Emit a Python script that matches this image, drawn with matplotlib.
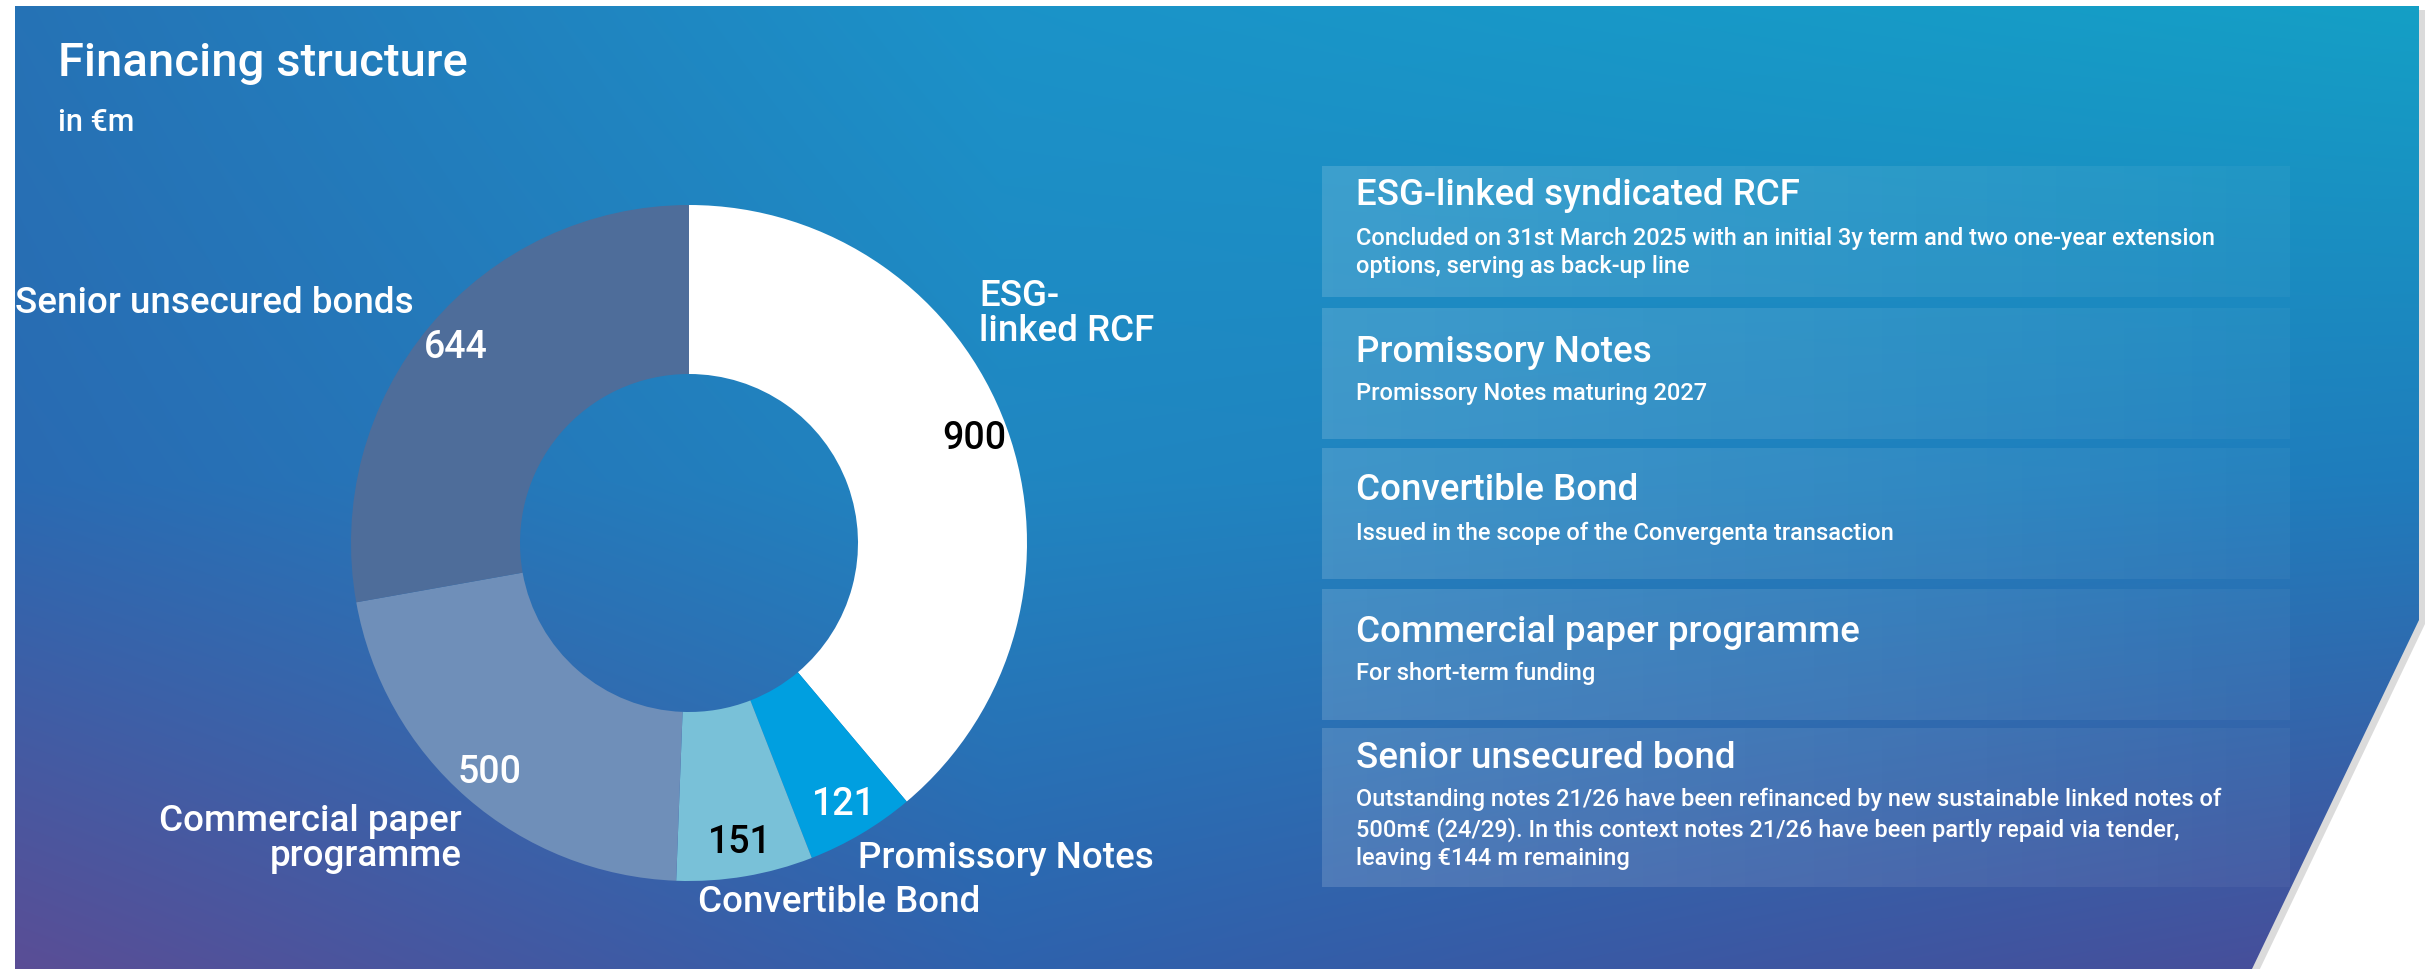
"""Financing structure donut with description panels."""

import matplotlib
matplotlib.use("Agg")
import matplotlib.pyplot as plt
import numpy as np
from matplotlib.patches import Polygon

plt.rcParams["font.family"] = ["Roboto", "DejaVu Sans"]
plt.rcParams["font.weight"] = "medium"

W, H = 2433, 969

# data
categories = ["ESG-linked RCF", "Promissory Notes", "Convertible Bond",
              "Commercial paper programme", "Senior unsecured bonds"]
amounts = [900, 121, 151, 500, 644]
slice_colors = ["#ffffff", "#009fe0", "#79c1d8", "#6f8fb9", "#4e6d9a"]
value_colors = ["black", "white", "black", "white", "white"]
outer_labels = ["ESG-\nlinked RCF", "Promissory Notes", "Convertible Bond",
                "Commercial paper\nprogramme", "Senior unsecured bonds"]

box_titles = ["ESG-linked syndicated RCF", "Promissory Notes", "Convertible Bond",
              "Commercial paper programme", "Senior unsecured bond"]
box_texts = [
    "Concluded on 31st March 2025 with an initial 3y term and two one-year extension\n"
    "options, serving as back-up line",
    "Promissory Notes maturing 2027",
    "Issued in the scope of the Convergenta transaction",
    "For short-term funding",
    "Outstanding notes 21/26 have been refinanced by new sustainable linked notes of\n"
    "500m\u20ac (24/29). In this context notes 21/26 have been partly repaid via tender,\n"
    "leaving \u20ac144 m remaining",
]

# layout (image pixel coords, y down)
label_pos = [(979, 314, "left"), (858, 858, "left"), (698, 902, "left"),
             (462, 839, "right"), (15, 303, "left")]
box_rows = [(166, 297), (308, 439), (448, 579), (589, 720), (728, 887)]
box_title_y = [195, 352, 490, 632, 758]
box_text_y = [238, 393, 533, 673, 799]

fig = plt.figure(figsize=(W / 100, H / 100), dpi=100)
ax = fig.add_axes([0, 0, 1, 1])
ax.axis("off")


def Y(y):
    return H - y


# background panel with gradient
panel = [(15, Y(6)), (2419, Y(6)), (2419, Y(620)), (2252, Y(H)), (15, Y(H))]
shadow = Polygon([(x + 6, y - 4) for x, y in panel], closed=True,
                 facecolor="#999999", alpha=0.35, edgecolor="none", zorder=0)
ax.add_patch(shadow)

grid_x = [0, 1000, W]
grid_y = [0, 480, H]
grid_cols = [
    ["#2672b5", "#1b93c9", "#14a0c6"],
    ["#2a6ab2", "#2086c1", "#1f7cbc"],
    ["#5b4d95", "#2e62ad", "#4a4c98"],
]
rgb = np.array([[matplotlib.colors.to_rgb(c) for c in row] for row in grid_cols])
xs = np.arange(W)
ys = np.arange(H)
rows = np.stack([np.stack([np.interp(xs, grid_x, rgb[r, :, k]) for k in range(3)], -1)
                 for r in range(3)])
img = np.empty((H, W, 3))
for k in range(3):
    img[:, :, k] = np.array([np.interp(ys, grid_y, rows[:, i, k]) for i in range(W)]).T
bg = ax.imshow(img, extent=(0, W, 0, H), origin="upper", zorder=1)
clip = Polygon(panel, closed=True, facecolor="none", edgecolor="none")
ax.add_patch(clip)
bg.set_clip_path(clip)

# title
ax.text(58, Y(63), "Financing structure", color="white", fontsize=34,
        va="center", ha="left", zorder=5)
ax.text(58, Y(122), "in \u20acm", color="white", fontsize=22,
        va="center", ha="left", zorder=5)

# donut
cx, cy, R = 689, Y(543), 338
wedges, _, autotexts = ax.pie(
    amounts, colors=slice_colors, startangle=90, counterclock=False,
    radius=R, center=(cx, cy), autopct=lambda p: f"{p * sum(amounts) / 100:.0f}",
    pctdistance=0.9, wedgeprops=dict(width=R / 2, edgecolor="none"),
    textprops=dict(fontsize=27, fontweight="medium"),
)
for w in wedges:
    w.set_zorder(4)
for t, c in zip(autotexts, value_colors):
    t.set_color(c)
    t.set_zorder(6)

for lab, (x, y, ha) in zip(outer_labels, label_pos):
    ax.text(x, Y(y), lab, color="white", fontsize=26.5, ha=ha, va="center",
            linespacing=1.0, zorder=6)

# description boxes
box_img = np.ones((1, 256, 4))
box_img[0, :, 3] = np.linspace(0.15, 0.04, 256)
for (top, bot), title, body, ty, by in zip(box_rows, box_titles, box_texts,
                                             box_title_y, box_text_y):
    ax.imshow(box_img, extent=(1322, 2290, Y(bot), Y(top)), aspect="auto", zorder=3)
    ax.text(1356, Y(ty), title, color="white", fontsize=26.5, va="center",
            ha="left", zorder=6)
    ax.text(1356, Y(by) + 11, body, color="white", fontsize=17, va="top",
            ha="left", linespacing=1.3, zorder=6)

ax.set_xlim(0, W)
ax.set_ylim(0, H)
ax.set_aspect("auto")
fig.savefig("out.png", dpi=100)
